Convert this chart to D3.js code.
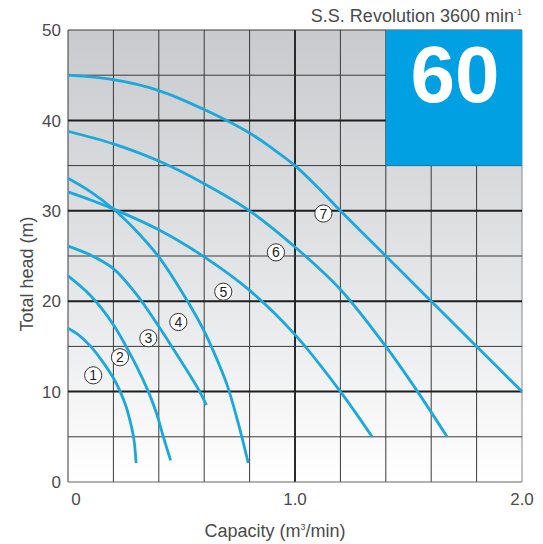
<!DOCTYPE html>
<html><head><meta charset="utf-8">
<script src="https://cdn.jsdelivr.net/npm/d3@7/dist/d3.min.js"></script>
<style>body{margin:0;background:#fff}svg{display:block}text{font-family:"Liberation Sans",Arial,sans-serif}</style>
</head><body><svg id="c" width="543" height="544"></svg>
<script>
// ---- data ----
const xTicks = [0, 1.0, 2.0];
const xTickLabels = ["0", "1.0", "2.0"];
const yTicks = [0, 10, 20, 30, 40, 50];
const curveNames = ["1", "2", "3", "4", "5", "6", "7"];
const curve1 = [[0,17.0],[0.05,16.2],[0.1,15.0],[0.15,13.4],[0.2,11.5],[0.23,10.0],[0.255,8.4],[0.275,6.6],[0.29,4.8],[0.30,2.1]];
const curve2 = [[0,22.8],[0.1,20.6],[0.2,17.4],[0.3,12.9],[0.354,10.0],[0.39,7.6],[0.42,5.0],[0.452,2.4]];
const curve3 = [[0,26.1],[0.1,25.1],[0.2,23.6],[0.3,20.8],[0.4,17.2],[0.457,15],[0.52,12.5],[0.58,10],[0.61,8.5]];
const curve4 = [[0,33.6],[0.1,32.1],[0.2,30.2],[0.3,27.8],[0.4,24.9],[0.5,21.1],[0.6,16.7],[0.64,14.5],[0.7,10.8],[0.75,6.5],[0.794,2.1]];
const curve5 = [[0,32.1],[0.1,31.2],[0.2,30.2],[0.4,27.9],[0.6,24.9],[0.8,21.2],[1.0,16.3],[1.2,10],[1.34,5]];
const curve6 = [[0,38.8],[0.2,37.4],[0.4,35.5],[0.6,33.0],[0.8,30.0],[1.0,26.0],[1.2,21.3],[1.4,15],[1.54,10],[1.67,5]];
const curve7 = [[0,45.0],[0.2,44.5],[0.4,43.3],[0.6,41.2],[0.8,38.6],[0.9,36.9],[1.0,35.0],[1.1,32.6],[1.2,30],[1.4,25],[1.6,20],[1.8,15],[2.0,10]];
const labelX = [0.111, 0.229, 0.354, 0.486, 0.684, 0.916, 1.125];
const labelY = [11.8, 13.8, 15.9, 17.7, 21.05, 25.4, 29.7];
const modelBox = {x0: 1.4, x1: 2.0, y0: 35, y1: 50, text: "60"};
const titleText = "S.S. Revolution 3600 min";
const titleSup = "-1";

const curves = [curve1, curve2, curve3, curve4, curve5, curve6, curve7];

// ---- layout ----
const W = 543, H = 544;
const m = {l: 68, r: 21, t: 30, b: 62};
const svg = d3.select("#c");
const x = d3.scaleLinear().domain([0, 2]).range([m.l, W - m.r]);
const y = d3.scaleLinear().domain([0, 50]).range([H - m.b, m.t]);

const defs = svg.append("defs");
const grad = defs.append("linearGradient").attr("id", "bg").attr("x1", 0).attr("y1", 0).attr("x2", 0).attr("y2", 1);
grad.append("stop").attr("offset", "0%").attr("stop-color", "#c8cacd");
grad.append("stop").attr("offset", "55%").attr("stop-color", "#e4e5e7");
grad.append("stop").attr("offset", "100%").attr("stop-color", "#ffffff");

svg.append("rect").attr("x", x(0)).attr("y", y(50)).attr("width", x(2) - x(0)).attr("height", y(0) - y(50)).attr("fill", "url(#bg)");

// grid
const g = svg.append("g");
const vx = d3.range(0, 2.0001, 0.2);
g.selectAll("line.v").data(vx).join("line")
  .attr("x1", d => x(d)).attr("x2", d => x(d)).attr("y1", y(0)).attr("y2", y(50))
  .attr("stroke", d => Math.abs(d - 1) < 1e-6 ? "#2a2a2a" : (Math.abs(d - 2) < 1e-6 ? "#8a8a8a" : "#3a3a3a"))
  .attr("stroke-width", d => Math.abs(d - 1) < 1e-6 ? 2 : 1);
const hy = d3.range(0, 50.001, 5);
g.selectAll("line.h").data(hy).join("line")
  .attr("x1", x(0)).attr("x2", x(2)).attr("y1", d => y(d)).attr("y2", d => y(d))
  .attr("stroke", d => (d % 10 === 0 && d > 0 && d < 50) ? "#1e1e1e" : (d === 0 ? "#666" : "#3a3a3a"))
  .attr("stroke-width", d => (d % 10 === 0 && d > 0 && d < 50) ? 2 : 1);

// model box
svg.append("rect").attr("x", x(modelBox.x0)).attr("y", y(modelBox.y1))
  .attr("width", x(modelBox.x1) - x(modelBox.x0)).attr("height", y(modelBox.y0) - y(modelBox.y1))
  .attr("fill", "#00a0e3");
svg.append("text").attr("x", (x(modelBox.x0) + x(modelBox.x1)) / 2 + 1).attr("y", y(modelBox.y1) + 72)
  .attr("text-anchor", "middle").attr("fill", "#fff").attr("font-weight", "bold")
  .attr("font-size", 80).text(modelBox.text);

// curves
const line = d3.line().x(d => x(d[0])).y(d => y(d[1])).curve(d3.curveCatmullRom.alpha(0.5));
svg.append("g").selectAll("path").data(curves).join("path")
  .attr("d", line).attr("fill", "none").attr("stroke", "#1ba8dc").attr("stroke-width", 2.8)
  .attr("stroke-linecap", "butt");

// curve labels
const lab = svg.append("g").selectAll("g").data(curveNames).join("g")
  .attr("transform", (d, i) => `translate(${x(labelX[i])},${y(labelY[i])})`);
lab.append("circle").attr("r", 8.6).attr("fill", "#fff").attr("stroke", "#333").attr("stroke-width", 1);
lab.append("text").attr("text-anchor", "middle").attr("dy", "0.36em").attr("font-size", 14)
  .attr("fill", "#222").text(d => d);

// axis tick labels
svg.append("g").selectAll("text").data(yTicks).join("text")
  .attr("x", x(0) - 7).attr("y", d => y(d)).attr("dy", "0.36em").attr("text-anchor", "end")
  .attr("font-size", 17).attr("fill", "#4a4a4a").text(d => d);
svg.append("g").selectAll("text").data(xTicks).join("text")
  .attr("x", (d, i) => x(d) + (i === 0 ? 8 : 0)).attr("y", y(0) + 23).attr("text-anchor", "middle")
  .attr("font-size", 17).attr("fill", "#4a4a4a").text((d, i) => xTickLabels[i]);

// axis titles
const xt = svg.append("text").attr("x", 275).attr("y", 537).attr("text-anchor", "middle")
  .attr("font-size", 18).attr("fill", "#4a4a4a");
xt.append("tspan").text("Capacity (m");
xt.append("tspan").attr("font-size", 9).attr("dy", -7).text("3");
xt.append("tspan").attr("dy", 7).text("/min)");
svg.append("text").attr("transform", "translate(27,274) rotate(-90)").attr("text-anchor", "middle")
  .attr("dy", "0.35em").attr("font-size", 18).attr("fill", "#4a4a4a").text("Total head (m)");

// title
const tt = svg.append("text").attr("x", W - m.r).attr("y", 22).attr("text-anchor", "end")
  .attr("font-size", 18).attr("fill", "#4a4a4a");
tt.append("tspan").text(titleText);
tt.append("tspan").attr("font-size", 9).attr("dy", -7).text(titleSup);
</script></body></html>
